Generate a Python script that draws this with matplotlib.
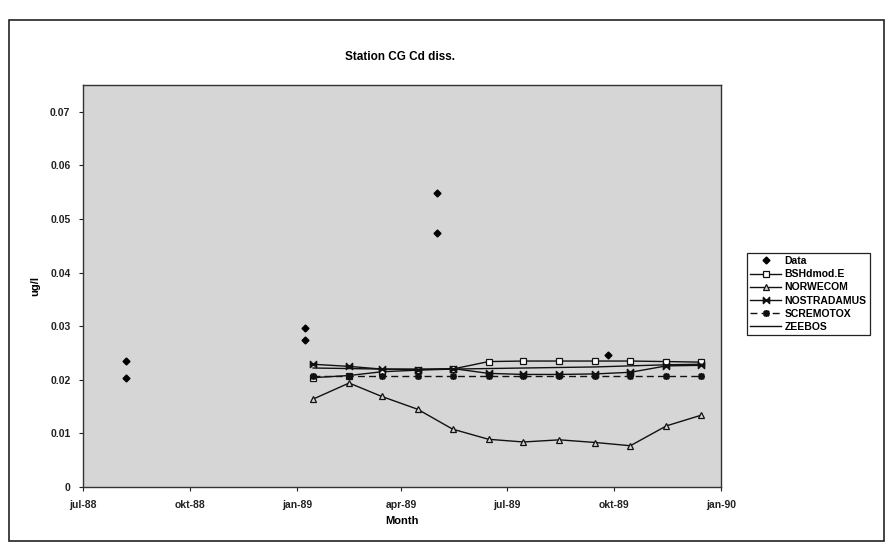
import datetime as dt
import matplotlib
matplotlib.use("Agg")
import matplotlib.pyplot as plt
import matplotlib.dates as mdates
from matplotlib.path import Path
from matplotlib.patches import Rectangle

plt.rcParams['font.family'] = ['Liberation Sans', 'DejaVu Sans']
plt.rcParams['font.weight'] = 'bold'
plt.rcParams['hatch.color'] = '#9a9a9a'
plt.rcParams['hatch.linewidth'] = 0.8

# observed samples (ug/l)
data_dates = ['1988-08-07', '1988-08-07', '1989-01-08', '1989-01-08',
              '1989-05-02', '1989-05-02', '1989-09-26']
data_values = [0.0235, 0.0204, 0.0296, 0.0274, 0.0549, 0.0474, 0.0246]

# model output, one value per month in 1989
model_dates = ['1989-01-15', '1989-02-15', '1989-03-15', '1989-04-15',
               '1989-05-15', '1989-06-15', '1989-07-15', '1989-08-15',
               '1989-09-15', '1989-10-15', '1989-11-15', '1989-12-15']
bshdmod = [0.0204, 0.0208, 0.0215, 0.0218, 0.0220, 0.0234,
           0.0235, 0.0235, 0.0235, 0.0235, 0.0234, 0.0233]
norwecom = [0.0164, 0.0194, 0.0169, 0.0145, 0.0108, 0.0089,
            0.0084, 0.0088, 0.0083, 0.0077, 0.0114, 0.0134]
nostradamus = [0.0229, 0.0225, 0.0220, 0.0219, 0.0221, 0.0212,
               0.0210, 0.0210, 0.0211, 0.0214, 0.0226, 0.0227]
scremotox = [0.0208, 0.0208, 0.0208, 0.0208, 0.0208, 0.0208,
             0.0208, 0.0208, 0.0208, 0.0208, 0.0208, 0.0208]
zeebos = [0.0222, 0.0221, 0.0220, 0.0220, 0.0220, 0.0221,
          0.0222, 0.0223, 0.0224, 0.0226, 0.0228, 0.0229]

tick_dates = ['1988-07-01', '1988-10-01', '1989-01-01', '1989-04-01',
              '1989-07-01', '1989-10-01', '1990-01-01']
tick_labels = ['jul-88', 'okt-88', 'jan-89', 'apr-89', 'jul-89', 'okt-89', 'jan-90']
y_ticks = [0, 0.01, 0.02, 0.03, 0.04, 0.05, 0.06, 0.07]
y_tick_labels = ['0', '0.01', '0.02', '0.03', '0.04', '0.05', '0.06', '0.07']


def to_dates(strings):
    return [dt.datetime.strptime(s, '%Y-%m-%d') for s in strings]


# bowtie marker for NOSTRADAMUS
bowtie = Path([(-1, 1), (-1, -1), (1, 1), (1, -1), (-1, 1)],
              [Path.MOVETO, Path.LINETO, Path.LINETO, Path.LINETO, Path.CLOSEPOLY])

fig = plt.figure(figsize=(8.85, 5.44), dpi=100)
fig.patches.append(Rectangle((9 / 885, 3 / 544), 875 / 885, 521 / 544,
                             transform=fig.transFigure, fill=False,
                             edgecolor='#222222', linewidth=1.2))

ax = fig.add_axes([83 / 885, 1 - 487 / 544, 638 / 885, 402 / 544])
ax.set_facecolor('#d6d6d6')
# dotted screen over the plot area
ax.add_patch(Rectangle((0, 0), 1, 1, transform=ax.transAxes, facecolor='none',
                       edgecolor='none', hatch='....', zorder=0.5))

md = to_dates(model_dates)
ax.plot(to_dates(data_dates), data_values, linestyle='none', marker='D',
        markersize=3.5, color='black', label='Data')
ax.plot(md, bshdmod, color='#111111', linewidth=1.0, marker='s', markersize=4.5,
        markerfacecolor='white', markeredgewidth=0.9, label='BSHdmod.E')
ax.plot(md, norwecom, color='#111111', linewidth=1.0, marker='^', markersize=4.5,
        markerfacecolor='#d6d6d6', markeredgewidth=0.9, label='NORWECOM')
ax.plot(md, nostradamus, color='#111111', linewidth=1.0, marker=bowtie,
        markersize=4.5, label='NOSTRADAMUS')
ax.plot(md, scremotox, color='#111111', linewidth=1.0, linestyle=(0, (5, 3)),
        marker=(8, 2, 0), markersize=5, markeredgewidth=1.2, label='SCREMOTOX')
ax.plot(md, zeebos, color='#111111', linewidth=1.0, label='ZEEBOS')

ax.set_xlim(to_dates(tick_dates)[0], to_dates(tick_dates)[-1])
ax.set_ylim(0, 0.075)
ax.set_xticks(mdates.date2num(to_dates(tick_dates)))
ax.set_xticklabels(tick_labels)
ax.set_yticks(y_ticks)
ax.set_yticklabels(y_tick_labels)
ax.tick_params(direction='out', length=3, width=0.8, labelsize=7.5, pad=6,
               colors='#222222')

for side in ['top', 'right', 'left', 'bottom']:
    ax.spines[side].set_linewidth(1.0)
    ax.spines[side].set_color('#333333')

ax.set_xlabel('Month', fontsize=8, fontweight='bold', labelpad=5)
ax.set_ylabel('ug/l', fontsize=8, fontweight='bold', labelpad=7)
fig.text(400 / 885, 1 - 57 / 544, 'Station CG Cd diss.', ha='center', va='center',
         fontsize=8.5, fontweight='bold')

leg = ax.legend(loc='upper left', bbox_to_anchor=(747 / 885, 1 - 253 / 544),
                bbox_transform=fig.transFigure, fontsize=7.5, frameon=True,
                fancybox=False, edgecolor='#222222', framealpha=1,
                handlelength=3.0, handletextpad=0.3, labelspacing=0.3,
                borderpad=0.3, borderaxespad=0)
leg.get_frame().set_linewidth(0.9)

fig.savefig('out.png', dpi=100)
